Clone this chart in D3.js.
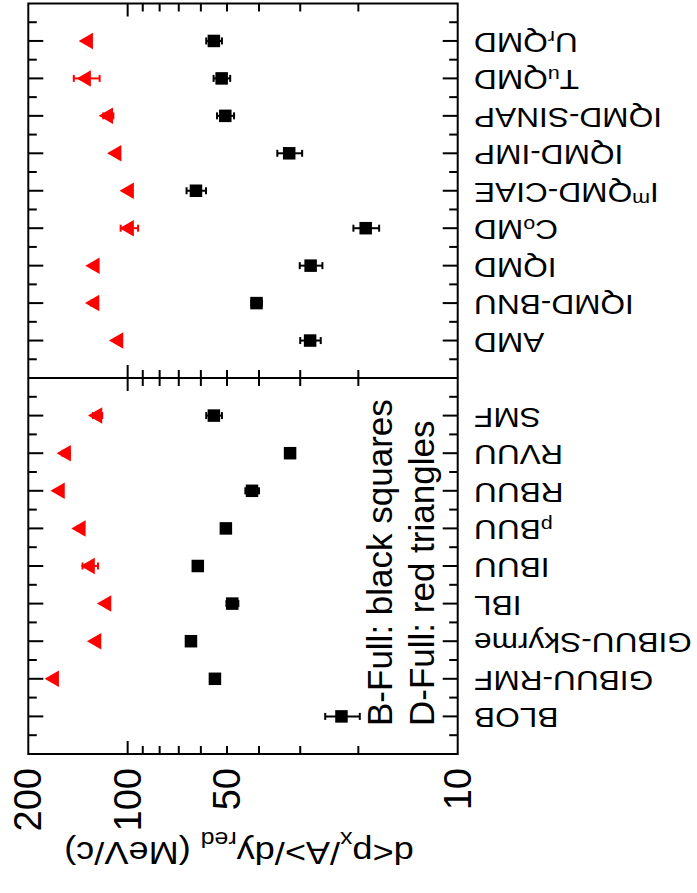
<!DOCTYPE html>
<html>
<head>
<meta charset="utf-8">
<script src="https://cdn.jsdelivr.net/npm/d3@7/dist/d3.min.js"></script>
<style>
  html, body { margin: 0; padding: 0; background: #fff; }
  svg { display: block; }
  text { font-family: "Liberation Sans", Arial, Helvetica, sans-serif; fill: #000; }
</style>
</head>
<body>
<script>
// Transverse flow slope d<px/A>/dy_red per transport code, box (B-Full) and
// Pauli-blocked (D-Full) variants. Codes: QMD family (upper panel), BUU family (lower panel).
const qmdCodes   = ["AMD", "IQMD-BNU", "IQMD", "C_{o}MD", "I^{m}QMD-CIAE", "IQMD-IMP", "IQMD-SINAP", "T_{u}QMD", "U_{r}QMD"];
const qmdBFull   = [28.0, 40.7, 27.9, 19.0, 62.1, 32.4, 50.6, 51.9, 54.8];
const qmdBErr    = [2.0, 1.5, 2.2, 1.7, 4.2, 2.8, 3.0, 3.0, 3.0];
const qmdDFull   = [106.6, 126.0, 125.7, 99.0, 99.0, 108.0, 114.5, 133.6, 131.7];
const qmdDErr    = [0, 3, 2, 6, 0, 0, 4, 12, 0];

const buuCodes   = ["BLOB", "GIBUU-RMF", "GIBUU-Skyrme", "IBL", "IBUU", "_{p}BUU", "RBUU", "RVUU", "SMF"];
const buuBFull   = [22.5, 54.4, 64.3, 48.2, 61.3, 50.4, 42.0, 32.2, 54.8];
const buuBErr    = [2.7, 1.0, 2.0, 2.0, 0, 0, 2.0, 0, 3.0];
const buuDFull   = [null, 167.0, 124.3, 115.9, 130.0, 138.6, 160.3, 153.6, 123.4];
const buuDErr    = [0, 0, 0, 0, 7, 3, 0, 4, 4];

const valueTicks  = [200, 100, 50, 10];
const minorTicks  = [20, 30, 40, 50, 60, 70, 80, 90];
const majorTicks  = [100];
const axisTitle   = "d<p_{x}/A>/dy_{red} (MeV/c)";
const legendLines = ["B-Full: black squares", "D-Full: red triangles"];

const W = 697, H = 893;
const RED = "#ff0000";

const svg = d3.select("body").append("svg")
  .attr("width", W).attr("height", H)
  .attr("viewBox", `0 0 ${W} ${H}`);
svg.append("rect").attr("width", W).attr("height", H).attr("fill", "#fff");

// Value axis runs horizontally, log scale, high values on the left.
const x = d3.scaleLog().domain([200, 10]).range([28.3, 457.7]);

const frameTop = 3.5, frameMid = 378, frameBot = 754;

const panels = [
  { cats: qmdCodes, b: qmdBFull, be: qmdBErr, d: qmdDFull, de: qmdDErr, y0: frameMid, y1: frameTop },
  { cats: buuCodes, b: buuBFull, be: buuBErr, d: buuDFull, de: buuDErr, y0: frameBot, y1: frameMid }
];

// Writes a string with _{..} / ^{..} markup into a text element as tspans.
function richText(sel, str, size, smallSize, subDy, supDy) {
  const re = /([_^])\{([^}]*)\}|([^_^]+)/g;
  let m, shift = 0;
  while ((m = re.exec(str)) !== null) {
    if (m[1]) {
      const target = m[1] === "_" ? subDy : supDy;
      sel.append("tspan").attr("dy", target - shift).attr("font-size", smallSize).text(m[2]);
      shift = target;
    } else {
      sel.append("tspan").attr("dy", -shift).attr("font-size", size).text(m[3]);
      shift = 0;
    }
  }
}

const triS = 16.5;                 // triangle side
const triH = triS * Math.sqrt(3) / 2;
const triPath = `M${-2 * triH / 3},0L${triH / 3},${-triS / 2}L${triH / 3},${triS / 2}Z`;
const sq = 12.5;

panels.forEach(p => {
  const y = d3.scaleLinear().domain([0, 10]).range([p.y0, p.y1]);
  const g = svg.append("g");

  // category ticks on both vertical sides
  const half = d3.range(1, 20).map(k => k / 2);
  half.forEach(k => {
    const len = Number.isInteger(k) ? 15 : 8.5;
    g.append("line").attr("x1", x(200)).attr("x2", x(200) + len)
      .attr("y1", y(k)).attr("y2", y(k)).attr("stroke", "#000").attr("stroke-width", 2);
    g.append("line").attr("x1", x(10)).attr("x2", x(10) - len)
      .attr("y1", y(k)).attr("y2", y(k)).attr("stroke", "#000").attr("stroke-width", 2);
  });

  // value ticks on both horizontal sides, pointing inward
  [[p.y0, -1], [p.y1, 1]].forEach(([yy, dir]) => {
    minorTicks.concat(majorTicks).forEach(v => {
      const len = majorTicks.includes(v) ? 13 : 8;
      g.append("line").attr("x1", x(v)).attr("x2", x(v))
        .attr("y1", yy).attr("y2", yy + dir * len)
        .attr("stroke", "#000").attr("stroke-width", 2);
    });
  });

  // category labels, turned upside down
  p.cats.forEach((c, i) => {
    const t = g.append("text")
      .attr("transform", `translate(474,${y(i + 1) - 8}) rotate(180) scale(1.13,1)`)
      .attr("text-anchor", "end")
      .attr("font-size", 28);
    richText(t, c, 28, 19, 1.5, -10);
  });

  // error bars
  const errBar = (v, e, yy, color) => {
    if (v == null || !e) return;
    const xa = x(v + e), xb = x(v - e);
    g.append("line").attr("x1", xa).attr("x2", xb).attr("y1", yy).attr("y2", yy)
      .attr("stroke", color).attr("stroke-width", 2);
    [xa, xb].forEach(xx => g.append("line").attr("x1", xx).attr("x2", xx)
      .attr("y1", yy - 3.5).attr("y2", yy + 3.5).attr("stroke", color).attr("stroke-width", 2));
  };
  p.b.forEach((v, i) => errBar(v, p.be[i], y(i + 1), "#000"));
  p.d.forEach((v, i) => errBar(v, p.de[i], y(i + 1), RED));

  // B-Full markers
  g.selectAll("rect.b").data(p.b.map((v, i) => ({ v, i })).filter(d => d.v != null))
    .join("rect").attr("class", "b")
    .attr("x", d => x(d.v) - sq / 2).attr("y", d => y(d.i + 1) - sq / 2)
    .attr("width", sq).attr("height", sq).attr("fill", "#000");

  // D-Full markers
  g.selectAll("path.d").data(p.d.map((v, i) => ({ v, i })).filter(d => d.v != null))
    .join("path").attr("class", "d")
    .attr("transform", d => `translate(${x(d.v)},${y(d.i + 1)})`)
    .attr("d", triPath).attr("fill", RED);
});

// frame and panel divider
svg.append("rect")
  .attr("x", x(200)).attr("y", frameTop)
  .attr("width", x(10) - x(200)).attr("height", frameBot - frameTop)
  .attr("fill", "none").attr("stroke", "#000").attr("stroke-width", 2);
svg.append("line").attr("x1", x(200)).attr("x2", x(10))
  .attr("y1", frameMid).attr("y2", frameMid).attr("stroke", "#000").attr("stroke-width", 2);

// value tick labels, reading upward
valueTicks.forEach(v => {
  svg.append("text")
    .attr("transform", `translate(${x(v)},768) rotate(-90)`)
    .attr("text-anchor", "end")
    .attr("dominant-baseline", "central")
    .attr("font-size", 38)
    .text(v);
});

// axis title, upside down
const title = svg.append("text")
  .attr("transform", "translate(239,842) rotate(180) scale(1.13,1)")
  .attr("text-anchor", "middle")
  .attr("font-size", 32);
richText(title, axisTitle, 32, 22, 10, -12);

// legend text, reading upward
legendLines.forEach((s, i) => {
  svg.append("text")
    .attr("transform", `translate(${391.5 + 42 * i},726) rotate(-90)`)
    .attr("text-anchor", "start")
    .attr("font-size", 35)
    .text(s);
});
</script>
</body>
</html>
